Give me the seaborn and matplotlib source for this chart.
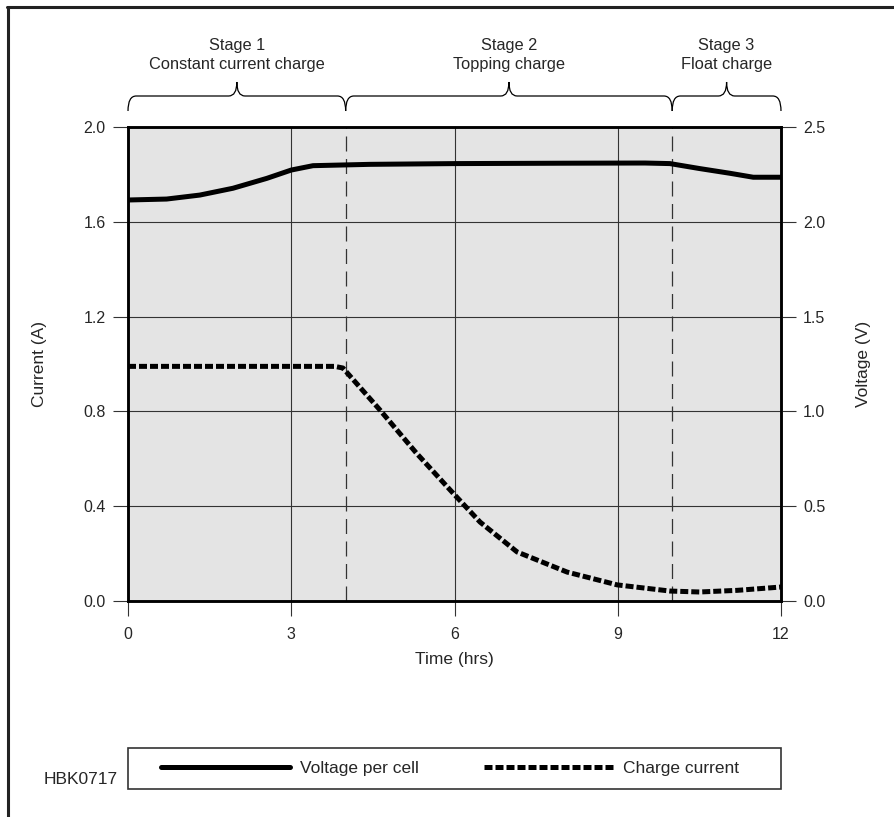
import matplotlib
matplotlib.use("Agg")
import matplotlib.pyplot as plt
import matplotlib.transforms as mtransforms
from matplotlib.lines import Line2D
from matplotlib.patches import PathPatch, Rectangle
from matplotlib.path import Path
import seaborn as sns

# values
volt_time = [0, 0.71, 1.32, 1.93, 2.55, 3.0, 3.4, 4.44, 6.0, 8.0, 9.5, 9.96, 10.5, 11.06, 11.49, 12.0]
volt_value = [2.115, 2.12, 2.141, 2.177, 2.229, 2.273, 2.296, 2.303, 2.307, 2.309, 2.31, 2.307,
              2.281, 2.256, 2.235, 2.235]
curr_time = [0, 3.0, 3.8, 3.95, 4.63, 5.3, 5.97, 6.47, 7.15, 8.07, 8.99, 9.96, 10.5, 11.2, 12.0]
curr_value = [0.99, 0.99, 0.99, 0.983, 0.806, 0.624, 0.456, 0.333, 0.207, 0.122, 0.068, 0.042,
              0.038, 0.045, 0.059]
stage_edges = [0, 4, 10, 12]
stage_labels = ["Stage 1\nConstant current charge", "Stage 2\nTopping charge", "Stage 3\nFloat charge"]
x_ticks = [0, 3, 6, 9, 12]
current_ticks = [0.0, 0.4, 0.8, 1.2, 1.6, 2.0]
voltage_ticks = [0.0, 0.5, 1.0, 1.5, 2.0, 2.5]

sns.set_theme(style="white")
plt.rcParams["font.family"] = ["Liberation Sans", "DejaVu Sans"]
plt.rcParams["font.size"] = 11

W, H = 894, 817
fig = plt.figure(figsize=(W / 100, H / 100), dpi=100)
ax = fig.add_axes([128 / W, 1 - 601 / H, 653 / W, 474 / H])
ax.set_facecolor("#e4e4e4")

# grid and stage boundaries
for x in [3, 6, 9]:
    ax.axvline(x, color="#333333", lw=0.8, zorder=1)
for y in current_ticks[1:-1]:
    ax.axhline(y, color="#333333", lw=0.8, zorder=1)
for x in stage_edges[1:-1]:
    ax.axvline(x, color="#333333", lw=0.9, ls=(0, (12, 6)), zorder=1)

sns.lineplot(x=curr_time, y=curr_value, ax=ax, color="black", linewidth=3.6,
             linestyle=(0, (1.6, 0.6)), label="Charge current", zorder=3)
ax.set_xlim(0, 12)
ax.set_ylim(0, 2.0)
ax.set_xticks(x_ticks)
ax.set_xticklabels([str(t) for t in x_ticks])
ax.set_yticks(current_ticks)
ax.set_yticklabels(["%.1f" % v for v in current_ticks])

ax2 = ax.twinx()
sns.lineplot(x=volt_time, y=volt_value, ax=ax2, color="black", linewidth=3.6,
             label="Voltage per cell", zorder=3)
ax2.set_ylim(0, 2.5)
ax2.set_yticks(voltage_ticks)
ax2.set_yticklabels(["%.1f" % v for v in voltage_ticks])

for a in (ax, ax2):
    for s in a.spines.values():
        s.set_linewidth(1.8)
        s.set_color("black")
    a.tick_params(length=11, width=0.8, color="#333333", labelsize=11.5, pad=5)
ax.tick_params(axis="y", left=True, right=False)
ax.tick_params(axis="x", bottom=True, pad=8)
ax2.tick_params(axis="y", right=True, left=False)

ax.set_xlabel("Time (hrs)", fontsize=12.5)
ax.xaxis.set_label_coords(0.5, -(652 - 601) / 474)
ax.set_ylabel("Current (A)", fontsize=12.5)
ax.yaxis.set_label_coords(-(128 - 47) / 653, 0.5)
ax2.set_ylabel("Voltage (V)", fontsize=12.5)
ax2.yaxis.set_label_coords(1 + (856 - 781) / 653, 0.5)

# curly braces and stage titles above the plot
trans = mtransforms.blended_transform_factory(ax.transData, ax.transAxes)
yb, ym, yt = 1 + 16 / 474, 1 + 31 / 474, 1 + 45 / 474
r = 0.15
for x0, x1, label in zip(stage_edges[:-1], stage_edges[1:], stage_labels):
    xc = (x0 + x1) / 2
    verts = [(x0, yb), (x0, ym), (x0 + r, ym), (xc - r, ym), (xc, ym), (xc, yt),
             (xc, ym), (xc + r, ym), (x1 - r, ym), (x1, ym), (x1, yb)]
    codes = [Path.MOVETO, Path.CURVE3, Path.CURVE3, Path.LINETO, Path.CURVE3, Path.CURVE3,
             Path.CURVE3, Path.CURVE3, Path.LINETO, Path.CURVE3, Path.CURVE3]
    ax.add_patch(PathPatch(Path(verts, codes), transform=trans, fill=False,
                           edgecolor="black", lw=0.9, clip_on=False))
    ax.text(xc, 1 + (127 - 55) / 474, label, transform=trans, ha="center", va="center",
            fontsize=11.8, linespacing=1.3)

# legend in a wide box
handles = ax2.get_legend_handles_labels()[0] + ax.get_legend_handles_labels()[0]
labels = ["Voltage per cell", "Charge current"]
for a in (ax, ax2):
    if a.get_legend() is not None:
        a.get_legend().remove()
fig.add_artist(Rectangle((128 / W, 1 - 789 / H), 653 / W, 41 / H, transform=fig.transFigure,
                         fill=False, edgecolor="#333333", lw=1.2))
fig.legend(handles, labels, loc="center", bbox_to_anchor=(450 / W, 1 - 768 / H), ncol=2,
           frameon=False, fontsize=12.5, handlelength=7.4, handletextpad=0.57,
           columnspacing=3.8)

fig.text(118 / W, 1 - 780 / H, "HBK0717", ha="right", va="center", fontsize=12.5)

# outer frame (left and top edges)
fig.add_artist(Line2D([8 / W, 8 / W], [0, 1 - 7 / H], transform=fig.transFigure,
                      color="#222222", lw=2.2))
fig.add_artist(Line2D([7 / W, 1], [1 - 7 / H, 1 - 7 / H], transform=fig.transFigure,
                      color="#222222", lw=2.2))

fig.savefig("out.png", dpi=100)
